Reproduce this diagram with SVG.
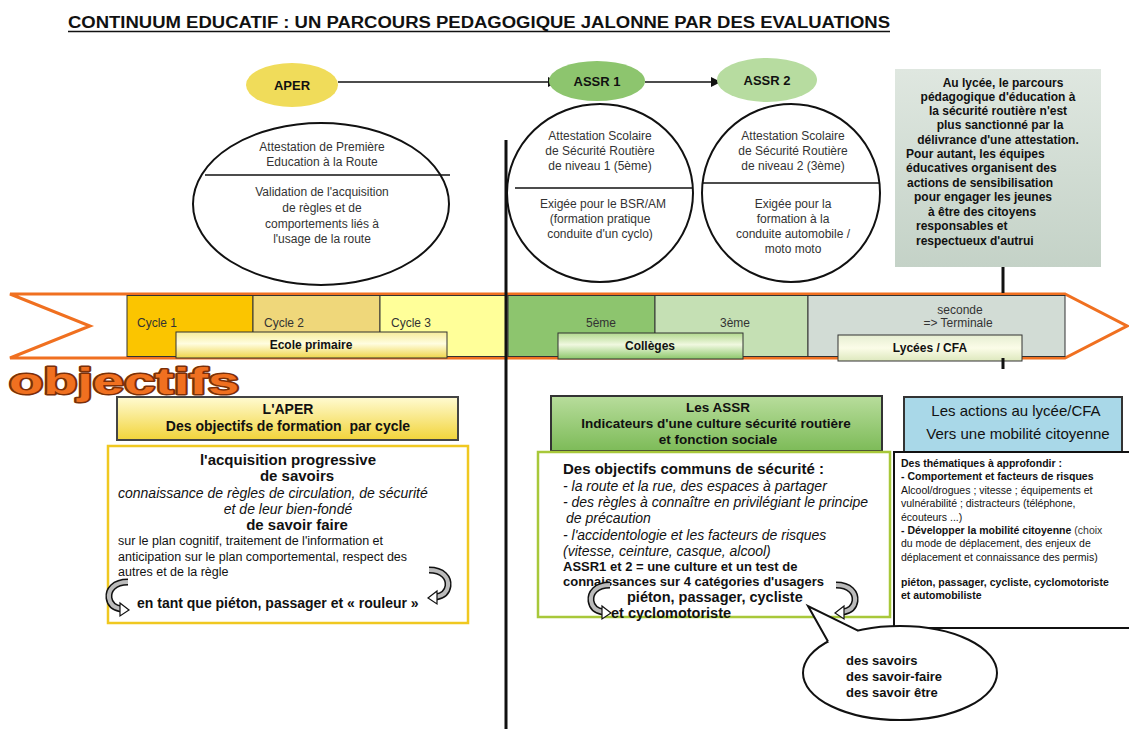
<svg xmlns="http://www.w3.org/2000/svg" width="1129" height="729" viewBox="0 0 1129 729">
<style>
text{font-family:"Liberation Sans",Arial,sans-serif;fill:#111}
.b{font-weight:bold}
.i{font-style:italic}
.c{text-anchor:middle}
.e{font-size:12px;fill:#333}
.ln{stroke:#111;fill:none}
</style>
<defs>
<marker id="ah" markerWidth="10" markerHeight="10" refX="9" refY="5" orient="auto" markerUnits="userSpaceOnUse"><path d="M0,0 L10,5 L0,10 Z" fill="#111"/></marker>
<linearGradient id="gY" x1="0" y1="0" x2="0" y2="1"><stop offset="0" stop-color="#fffbd2"/><stop offset="1" stop-color="#f2d43a"/></linearGradient>
<linearGradient id="gG" x1="0" y1="0" x2="0" y2="1"><stop offset="0" stop-color="#b8dd9c"/><stop offset="1" stop-color="#7dbb58"/></linearGradient>
<linearGradient id="gL" x1="0" y1="0" x2="0" y2="1"><stop offset="0" stop-color="#dfe7e0"/><stop offset="1" stop-color="#c4d2c7"/></linearGradient>
<linearGradient id="gEP" x1="0" y1="0" x2="0" y2="1"><stop offset="0" stop-color="#f7ec9a"/><stop offset="0.45" stop-color="#fffde0"/><stop offset="1" stop-color="#efd54a"/></linearGradient>
<linearGradient id="gCO" x1="0" y1="0" x2="0" y2="1"><stop offset="0" stop-color="#b2d98e"/><stop offset="0.45" stop-color="#f0f8e0"/><stop offset="1" stop-color="#8cc76a"/></linearGradient>
<linearGradient id="gLY" x1="0" y1="0" x2="0" y2="1"><stop offset="0" stop-color="#e6eed2"/><stop offset="0.5" stop-color="#fbfce8"/><stop offset="1" stop-color="#dde8bd"/></linearGradient>
<g id="curlL"><path d="M20,2 C6,2 0,10 1,18 C2,25 7,28 13,29" fill="none" stroke="#111" stroke-width="7"/><path d="M20,2 C6,2 0,10 1,18 C2,25 7,28 13,29" fill="none" stroke="#bbb" stroke-width="4"/><path d="M12,23 L21,30 L12,36 Z" fill="#fff" stroke="#111" stroke-width="1.2"/></g>
<g id="curlR"><path d="M0,2 C14,2 20,10 19,18 C18,25 13,28 7,29" fill="none" stroke="#111" stroke-width="7"/><path d="M0,2 C14,2 20,10 19,18 C18,25 13,28 7,29" fill="none" stroke="#bbb" stroke-width="4"/><path d="M8,23 L-1,30 L8,36 Z" fill="#fff" stroke="#111" stroke-width="1.2"/></g>
</defs>
<rect width="1129" height="729" fill="#fff"/>

<g id="title">
<text x="68" y="28" class="b" font-size="16" textLength="822" lengthAdjust="spacingAndGlyphs">CONTINUUM EDUCATIF : UN PARCOURS PEDAGOGIQUE JALONNE PAR DES EVALUATIONS</text>
<line x1="68" y1="31.5" x2="890" y2="31.5" stroke="#111" stroke-width="1.5"/>
</g>

<g id="band">
<path d="M10,294 L1065,294 L1127,326 L1065,358 L10,358 L90,326 Z" fill="#fff" stroke="#f07020" stroke-width="3"/>
<rect x="127" y="295.5" width="126" height="61" fill="#fbc500" stroke="#333" stroke-width="1"/>
<rect x="253" y="295.5" width="127" height="61" fill="#efd77a" stroke="#333" stroke-width="1"/>
<rect x="380" y="295.5" width="127" height="61" fill="#ffff99" stroke="#333" stroke-width="1"/>
<rect x="508" y="295.5" width="147" height="61" fill="#8dc56e" stroke="#333" stroke-width="1"/>
<rect x="655" y="295.5" width="153" height="61" fill="#c5e0b4" stroke="#333" stroke-width="1"/>
<rect x="808" y="295.5" width="257" height="61" fill="#d2dcd5" stroke="#333" stroke-width="1"/>
<text x="137" y="327" class="e">Cycle 1</text>
<text x="264" y="327" class="e">Cycle 2</text>
<text x="391" y="327" class="e">Cycle 3</text>
<text x="601" y="327" class="e c">5ème</text>
<text x="735" y="327" class="e c">3ème</text>
<text x="960" y="314" class="e c">seconde</text>
<text x="958" y="327" class="e c">=&gt; Terminale</text>
</g>

<g id="ecole"><rect x="176" y="332" width="271" height="26" fill="url(#gEP)" stroke="#333" stroke-width="1"/><text x="311" y="349" class="b c" font-size="12">Ecole primaire</text></g>
<g id="colleges"><rect x="558" y="333" width="185" height="26" fill="url(#gCO)" stroke="#333" stroke-width="1"/><text x="650" y="350" class="b c" font-size="12">Collèges</text></g>
<g id="lycees"><rect x="838" y="335" width="184" height="26" fill="url(#gLY)" stroke="#333" stroke-width="1"/><text x="930" y="352" class="b c" font-size="12">Lycées / CFA</text></g>

<g id="connectors">
<line x1="338" y1="82" x2="557" y2="82" class="ln" stroke-width="1.5" marker-end="url(#ah)"/>
<line x1="645" y1="82" x2="720" y2="82" class="ln" stroke-width="1.5" marker-end="url(#ah)"/>
<line x1="506" y1="140" x2="506" y2="729" class="ln" stroke-width="3"/>
<line x1="1003" y1="267" x2="1003" y2="293" class="ln" stroke-width="3"/>
<line x1="1003" y1="358" x2="1003" y2="369" class="ln" stroke-width="3"/>
</g>

<g id="aper"><ellipse cx="292" cy="85" rx="46" ry="22" fill="#f0dc5a"/><text x="292" y="90" class="b c" font-size="13">APER</text></g>
<g id="assr1"><ellipse cx="597" cy="81" rx="48" ry="20" fill="#8dc56e"/><text x="597" y="86" class="b c" font-size="13">ASSR 1</text></g>
<g id="assr2"><ellipse cx="767" cy="80" rx="50" ry="22" fill="#b7dca0"/><text x="767" y="85" class="b c" font-size="13">ASSR 2</text></g>

<g id="aper-detail">
<ellipse cx="321" cy="204" rx="128" ry="81" fill="none" stroke="#111" stroke-width="2"/>
<line x1="205" y1="175" x2="450" y2="175" stroke="#111" stroke-width="1.5"/>
<text class="e c" x="322" y="151">Attestation de Première</text>
<text class="e c" x="322" y="166">Education à la Route</text>
<text class="e c" x="322" y="196">Validation de l'acquisition</text>
<text class="e c" x="322" y="212">de règles et de</text>
<text class="e c" x="322" y="228">comportements liés à</text>
<text class="e c" x="322" y="243">l'usage de la route</text>
</g>

<g id="assr1-detail">
<ellipse cx="600" cy="193" rx="93" ry="89" fill="none" stroke="#111" stroke-width="2"/>
<line x1="515" y1="188" x2="692" y2="188" stroke="#111" stroke-width="1.5"/>
<text class="e c" x="600" y="140">Attestation Scolaire</text>
<text class="e c" x="600" y="155">de Sécurité Routière</text>
<text class="e c" x="600" y="170">de niveau 1 (5ème)</text>
<text class="e c" x="603" y="208">Exigée pour le BSR/AM</text>
<text class="e c" x="600" y="223">(formation pratique</text>
<text class="e c" x="600" y="238">conduite d'un cyclo)</text>
</g>

<g id="assr2-detail">
<ellipse cx="791" cy="193" rx="89" ry="89" fill="none" stroke="#111" stroke-width="2"/>
<line x1="703" y1="183" x2="879" y2="183" stroke="#111" stroke-width="1.5"/>
<text class="e c" x="793" y="140">Attestation Scolaire</text>
<text class="e c" x="793" y="155">de Sécurité Routière</text>
<text class="e c" x="793" y="170">de niveau 2 (3ème)</text>
<text class="e c" x="793" y="208">Exigée pour la</text>
<text class="e c" x="793" y="223">formation à la</text>
<text class="e c" x="793" y="238">conduite automobile /</text>
<text class="e c" x="793" y="253">moto moto</text>
</g>

<g id="lycee-note">
<rect x="895" y="69" width="206" height="198" fill="url(#gL)"/>
<g class="b" font-size="12">
<text class="c" x="1003" y="87">Au lycée, le parcours</text>
<text class="c" x="998" y="101">pédagogique d'éducation à</text>
<text class="c" x="998" y="115">la sécurité routière n'est</text>
<text class="c" x="1000" y="129">plus sanctionné par la</text>
<text class="c" x="998" y="144">délivrance d'une attestation.</text>
<text x="906" y="158">Pour autant, les équipes</text>
<text x="906" y="172">éducatives organisent des</text>
<text x="907" y="187">actions de sensibilisation</text>
<text x="914" y="201">pour engager les jeunes</text>
<text x="928" y="216">à être des citoyens</text>
<text x="916" y="230">responsables et</text>
<text x="916" y="245">respectueux d'autrui</text>
</g>
</g>

<g id="objectifs"><text x="9" y="394" font-family="'DejaVu Sans',sans-serif" font-weight="900" font-size="36" stroke="#7a3008" stroke-width="3" paint-order="stroke" stroke-linejoin="round" textLength="230" lengthAdjust="spacingAndGlyphs" style="fill:#f07020">objectifs</text></g>

<g id="aper-header">
<rect x="117" y="397" width="341" height="43" fill="url(#gY)" stroke="#444" stroke-width="2"/>
<text class="b c" x="288" y="414" font-size="14">L'APER</text>
<text class="b c" x="288" y="431" font-size="14">Des objectifs de formation&#160; par cycle</text>
</g>

<g id="aper-content">
<rect x="108" y="446" width="360" height="177" fill="#fff" stroke="#f0c820" stroke-width="2.5"/>
<text class="b c" x="288" y="465" font-size="15">l'acquisition progressive</text>
<text class="b c" x="297" y="481" font-size="15">de savoirs</text>
<text class="i" x="118" y="498" font-size="14" fill="#222">connaissance de règles de circulation, de sécurité</text>
<text class="i c" x="288" y="514" font-size="14" fill="#222">et de leur bien-fondé</text>
<text class="b c" x="297" y="530" font-size="15">de savoir faire</text>
<text x="118" y="545" font-size="12.5" fill="#333">sur le plan cognitif, traitement de l'information et</text>
<text x="118" y="561" font-size="12.5" fill="#333">anticipation sur le plan comportemental, respect des</text>
<text x="118" y="576" font-size="12.5" fill="#333">autres et de la règle</text>
<text class="b" x="137" y="608" font-size="14">en tant que piéton, passager et « rouleur »</text>
<use href="#curlL" x="108" y="580"/>
<use href="#curlR" x="429" y="568"/>
</g>

<g id="assr-header">
<rect x="551" y="396" width="331" height="55" fill="url(#gG)" stroke="#333" stroke-width="2"/>
<text class="b c" x="718" y="412" font-size="13.5">Les ASSR</text>
<text class="b c" x="716" y="428" font-size="13.5">Indicateurs d'une culture sécurité routière</text>
<text class="b c" x="718" y="444" font-size="13.5">et fonction sociale</text>
</g>

<g id="assr-content">
<rect x="538" y="452" width="352" height="165" fill="#fff" stroke="#a8c83a" stroke-width="2.5"/>
<text class="b" x="563" y="474" font-size="15">Des objectifs communs de sécurité :</text>
<text class="i" x="563" y="491" font-size="14" fill="#222">- la route et la rue, des espaces à partager</text>
<text class="i" x="563" y="507" font-size="14" fill="#222">- des règles à connaître en privilégiant le principe</text>
<text class="i" x="566" y="523" font-size="14" fill="#222">de précaution</text>
<text class="i" x="563" y="540" font-size="14" fill="#222">- l'accidentologie et les facteurs de risques</text>
<text class="i" x="563" y="556" font-size="14" fill="#222">(vitesse, ceinture, casque, alcool)</text>
<text class="b" x="563" y="571" font-size="13">ASSR1 et 2 = une culture et un test de</text>
<text class="b" x="563" y="586" font-size="13">connaissances sur 4 catégories d'usagers</text>
<text class="b" x="627" y="602" font-size="14.5">piéton, passager, cycliste</text>
<text class="b" x="611" y="618" font-size="14.5">et cyclomotoriste</text>
<use href="#curlL" x="590" y="583"/>
<use href="#curlR" x="836" y="583"/>
</g>

<g id="lycee-header">
<rect x="904" y="397" width="218" height="55" fill="#a9d8e8" stroke="#333" stroke-width="2"/>
<text class="c" x="1016" y="416" font-size="15" fill="#222">Les actions au lycée/CFA</text>
<text class="c" x="1018" y="439" font-size="15" fill="#222">Vers une mobilité citoyenne</text>
</g>

<g id="lycee-content">
<rect x="894" y="452" width="240" height="176" fill="#fff" stroke="#111" stroke-width="2"/>
<g font-size="10.5">
<text class="b" x="901" y="467">Des thématiques à approfondir :</text>
<text class="b" x="901" y="480">- Comportement et facteurs de risques</text>
<text x="901" y="494" fill="#333">Alcool/drogues ; vitesse ; équipements et</text>
<text x="901" y="507" fill="#333">vulnérabilité ; distracteurs (téléphone,</text>
<text x="901" y="521" fill="#333">écouteurs ...)</text>
<text x="901" y="534"><tspan class="b">- Développer la mobilité citoyenne</tspan><tspan fill="#333"> (choix</tspan></text>
<text x="901" y="547" fill="#333">du mode de déplacement, des enjeux de</text>
<text x="901" y="561" fill="#333">déplacement et connaissance des permis)</text>
<text class="b" x="901" y="586">piéton, passager, cycliste, cyclomotoriste</text>
<text class="b" x="901" y="599">et automobiliste</text>
</g>
</g>

<g id="bubble">
<ellipse cx="900" cy="673" rx="97" ry="47" fill="#fff" stroke="#111" stroke-width="2"/>
<polygon points="828,641.5 808,606 858,630.6 852,642 834,646" fill="#fff"/>
<polyline points="828,641.5 808,606 858,630.6" fill="none" stroke="#111" stroke-width="2" stroke-linejoin="miter"/>
<text class="b" x="846" y="665" font-size="13">des savoirs</text>
<text class="b" x="846" y="681" font-size="13">des savoir-faire</text>
<text class="b" x="846" y="697" font-size="13">des savoir être</text>
</g>
</svg>
